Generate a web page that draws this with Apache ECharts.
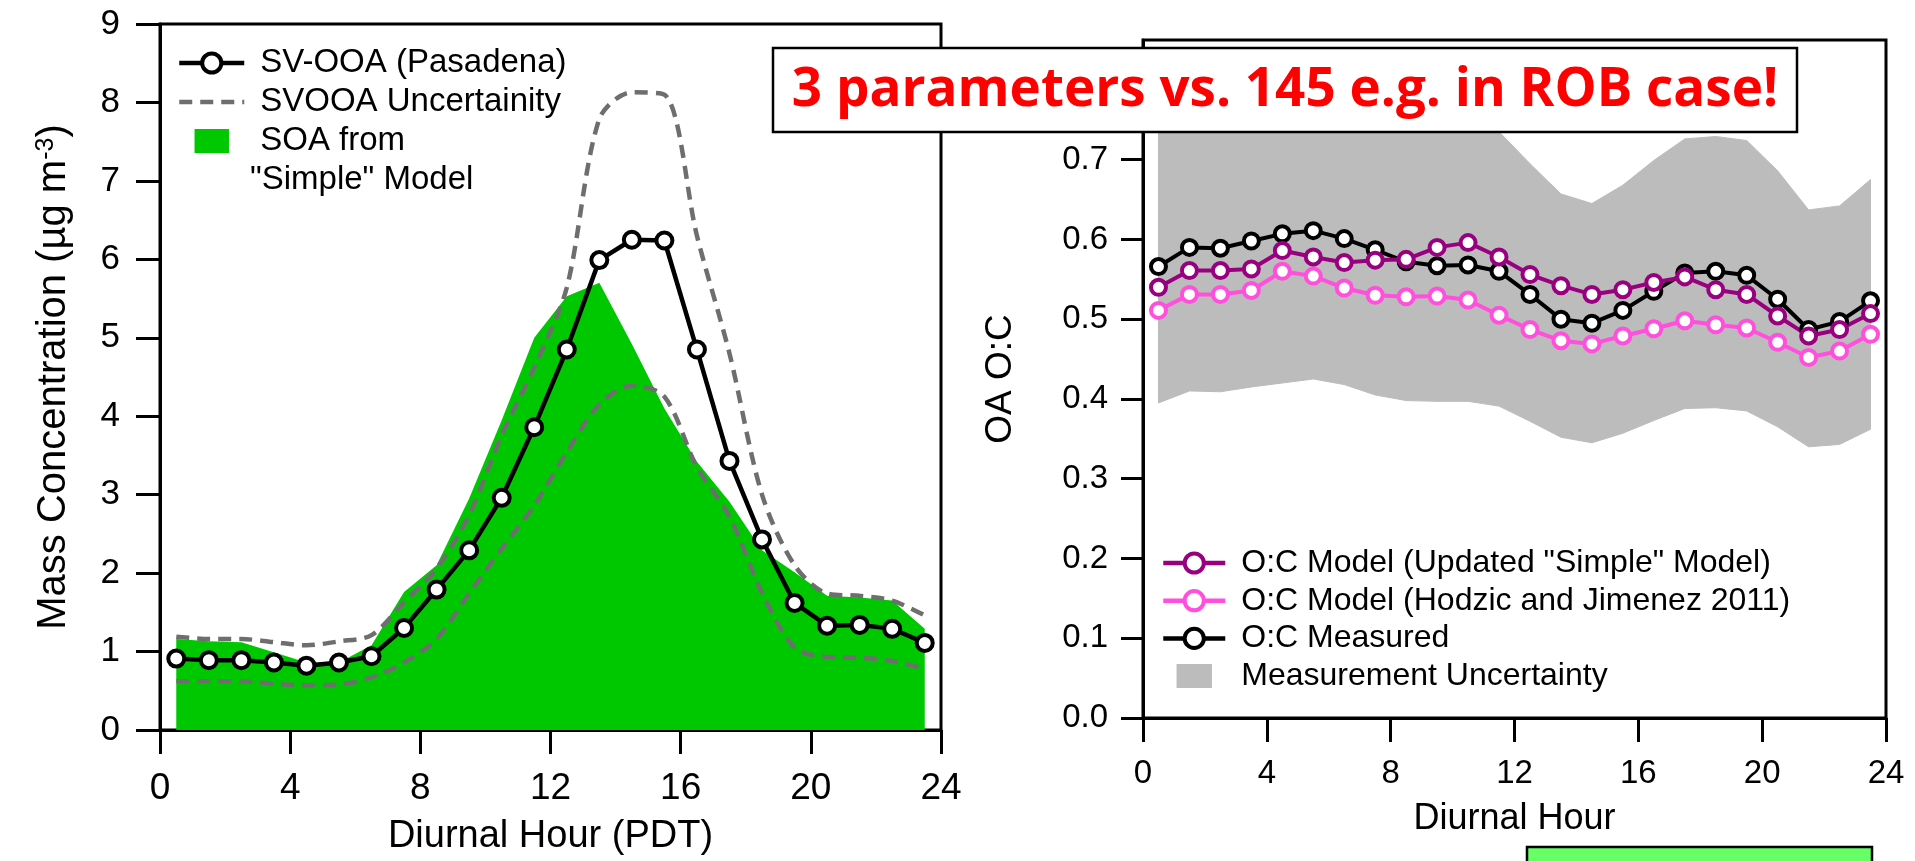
<!DOCTYPE html>
<html><head><meta charset="utf-8">
<script src="https://cdn.jsdelivr.net/npm/echarts@6/dist/echarts.min.js"></script>
<style>html,body{margin:0;padding:0;background:#fff}#c{width:1915px;height:861px}</style>
</head><body><div id="c"></div>
<script>
// ---------- data ----------
const hours = [0.5,1.5,2.5,3.5,4.5,5.5,6.5,7.5,8.5,9.5,10.5,11.5,12.5,13.5,14.5,15.5,16.5,17.5,18.5,19.5,20.5,21.5,22.5,23.5];
// left panel (Mass Concentration, ug m-3)
const svOOA     = [0.91,0.89,0.89,0.86,0.82,0.86,0.94,1.30,1.79,2.29,2.96,3.86,4.85,5.99,6.25,6.24,4.85,3.43,2.43,1.62,1.33,1.34,1.29,1.11];
const svUpper   = [1.19,1.16,1.16,1.12,1.08,1.13,1.21,1.63,2.06,2.74,3.76,4.62,5.64,7.79,8.13,8.10,6.30,4.80,3.00,2.10,1.74,1.71,1.65,1.46];
const svLower   = [0.62,0.62,0.62,0.59,0.57,0.58,0.67,0.86,1.16,1.74,2.31,2.86,3.54,4.15,4.39,4.25,3.35,2.72,1.75,1.05,0.93,0.92,0.88,0.78];
const soaSimple = [1.16,1.13,1.12,0.99,0.86,0.86,1.08,1.76,2.10,2.95,3.95,5.00,5.53,5.70,4.92,4.10,3.42,2.91,2.29,2.01,1.71,1.69,1.65,1.29];
// right panel (OA O:C)
const ocUpdated  = [0.540,0.561,0.561,0.563,0.586,0.578,0.571,0.574,0.575,0.590,0.596,0.578,0.556,0.542,0.531,0.537,0.546,0.553,0.537,0.531,0.504,0.479,0.487,0.507];
const ocHodzic   = [0.511,0.531,0.531,0.536,0.560,0.554,0.539,0.530,0.528,0.529,0.524,0.505,0.487,0.473,0.469,0.479,0.488,0.498,0.493,0.489,0.471,0.452,0.460,0.481];
const ocMeasured = [0.566,0.590,0.589,0.598,0.607,0.611,0.601,0.587,0.572,0.567,0.568,0.560,0.531,0.500,0.495,0.511,0.535,0.558,0.560,0.555,0.525,0.487,0.497,0.523];
const ocUncUpper = [0.740,0.765,0.770,0.775,0.785,0.790,0.780,0.765,0.750,0.745,0.745,0.735,0.695,0.657,0.645,0.668,0.699,0.726,0.729,0.724,0.686,0.637,0.642,0.675];
const ocUncLower = [0.395,0.410,0.409,0.415,0.420,0.425,0.418,0.405,0.398,0.397,0.397,0.391,0.372,0.352,0.345,0.357,0.373,0.388,0.389,0.385,0.365,0.340,0.343,0.362];

const names = {
  sv: 'SV-OOA (Pasadena)', unc: 'SVOOA Uncertainity', soa: 'SOA from "Simple" Model',
  upd: 'O:C Model (Updated "Simple" Model)', hod: 'O:C Model (Hodzic and Jimenez 2011)',
  meas: 'O:C Measured', munc: 'Measurement Uncertainty'
};
const soaLine1 = 'SOA from', soaLine2 = '"Simple" Model';
const noteText = '3 parameters vs. 145 e.g. in ROB case!';

// ---------- styles ----------
const FONT = "'Liberation Sans', Arial, sans-serif";
const PURPLE = '#990080', PINK = '#ff4fdc', GREEN = '#00c800', GRAY = '#bcbcbc', DASH = '#6e6e6e';
const DASHTYPE = [13, 8];
const pair = arr => hours.map((h, i) => [h, arr[i]]);

function xAx(gi, name, gap, nameSize, labSize, labMargin) {
  return {
    gridIndex: gi, type: 'value', min: 0, max: 24, interval: 4,
    name: name, nameLocation: 'middle', nameGap: gap,
    nameTextStyle: { fontFamily: FONT, fontSize: nameSize, color: '#000' },
    axisLine: { lineStyle: { color: '#000', width: 3 } },
    axisTick: { length: 24, lineStyle: { color: '#000', width: 3 } },
    axisLabel: { margin: labMargin, fontFamily: FONT, fontSize: labSize, color: '#000' },
    splitLine: { show: false }
  };
}

const chart = echarts.init(document.getElementById('c'), null, { renderer: 'canvas' });
chart.setOption({
  animation: false,
  backgroundColor: '#fff',
  grid: [
    { left: 160, top: 24, width: 781, height: 710, show: true, borderColor: '#000', borderWidth: 3 },
    { left: 1143, top: 40, width: 743, height: 678, show: true, borderColor: '#000', borderWidth: 3 }
  ],
  xAxis: [xAx(0, 'Diurnal Hour (PDT)', 88, 38, 37, 40), xAx(1, 'Diurnal Hour', 83, 36, 33, 39)],
  yAxis: [
    {
      gridIndex: 0, type: 'value', min: 0, max: 9, interval: 1,
      name: '{n|Mass Concentration (µg m}{s|-3}{n|)}', nameLocation: 'middle', nameGap: 86,
      nameTextStyle: {
        rich: {
          n: { fontFamily: FONT, fontSize: 40, color: '#000', verticalAlign: 'bottom', lineHeight: 40 },
          s: { fontFamily: FONT, fontSize: 25, color: '#000', verticalAlign: 'top', lineHeight: 25, padding: [0, 0, 30, 0] }
        }
      },
      axisLine: { lineStyle: { color: '#000', width: 3 } },
      axisTick: { length: 24, lineStyle: { color: '#000', width: 3 } },
      axisLabel: { margin: 40, fontFamily: FONT, fontSize: 35, color: '#000' },
      splitLine: { show: false }
    },
    {
      gridIndex: 1, type: 'value', min: 0, max: 0.85, interval: 0.1,
      name: 'OA O:C', nameLocation: 'middle', nameGap: 124,
      nameTextStyle: { fontFamily: FONT, fontSize: 37, color: '#000' },
      axisLine: { lineStyle: { color: '#000', width: 3 } },
      axisTick: { length: 22, lineStyle: { color: '#000', width: 3 } },
      axisLabel: { margin: 35, fontFamily: FONT, fontSize: 33, color: '#000', showMaxLabel: false,
                   formatter: v => v.toFixed(1) },
      splitLine: { show: false }
    }
  ],
  legend: [
    {
      left: 177, top: 46, orient: 'vertical', padding: 0, itemGap: 5, itemWidth: 65, itemHeight: 24,
      lineStyle: { width: 4.5 }, itemStyle: { borderWidth: 4 },
      formatter: n => (n === names.soa ? soaLine1 : n),
      textStyle: { fontFamily: FONT, fontSize: 33, lineHeight: 34, color: '#000', padding: [0, 0, 0, 11] },
      data: [
        { name: names.sv },
        { name: names.unc, itemStyle: { opacity: 0 }, lineStyle: { width: 4.5, type: DASHTYPE } },
        { name: names.soa, icon: 'path://M0,0h33v23h-33z', itemStyle: { borderWidth: 0 } }
      ]
    },
    {
      left: 1161, top: 546, orient: 'vertical', padding: 0, itemGap: 3.7, itemWidth: 62, itemHeight: 24,
      lineStyle: { width: 4.5 }, itemStyle: { borderWidth: 4 },
      textStyle: { fontFamily: FONT, fontSize: 32, lineHeight: 34, color: '#000', padding: [0, 0, 0, 11] },
      data: [names.upd, names.hod, names.meas,
             { name: names.munc, icon: 'path://M0,0h31v21h-31z', itemStyle: { borderWidth: 0 } }]
    }
  ],
  series: [
    { name: names.soa, type: 'line', xAxisIndex: 0, yAxisIndex: 0, data: pair(soaSimple),
      symbol: 'none', color: GREEN, lineStyle: { width: 0, color: GREEN }, itemStyle: { color: GREEN },
      areaStyle: { color: GREEN, opacity: 1 }, z: 1 },
    { name: names.unc, type: 'line', xAxisIndex: 0, yAxisIndex: 0, data: pair(svUpper), smooth: 0.3,
      symbol: 'none', color: DASH, lineStyle: { width: 4.5, color: DASH, type: DASHTYPE }, z: 2 },
    { name: names.unc, type: 'line', xAxisIndex: 0, yAxisIndex: 0, data: pair(svLower), smooth: 0.3,
      symbol: 'none', color: DASH, lineStyle: { width: 4.5, color: DASH, type: DASHTYPE }, z: 2 },
    { name: names.sv, type: 'line', xAxisIndex: 0, yAxisIndex: 0, data: pair(svOOA),
      symbol: 'circle', symbolSize: 16, color: '#000',
      lineStyle: { width: 4.5, color: '#000' }, itemStyle: { color: '#fff', borderColor: '#000', borderWidth: 4 }, z: 3 },

    { name: names.munc, type: 'custom', xAxisIndex: 1, yAxisIndex: 1, coordinateSystem: 'cartesian2d',
      color: GRAY, itemStyle: { color: GRAY }, z: 1,
      data: hours.map((h, i) => [h, ocUncLower[i], ocUncUpper[i]]),
      encode: { x: 0, y: [1, 2] },
      renderItem: function (params, api) {
        if (params.dataIndex !== 0) return null;
        const top = hours.map((h, i) => api.coord([h, ocUncUpper[i]]));
        const bot = hours.map((h, i) => api.coord([h, ocUncLower[i]])).reverse();
        return { type: 'polygon', shape: { points: top.concat(bot) }, style: { fill: GRAY, stroke: GRAY, lineWidth: 1 } };
      } },
    { name: names.meas, type: 'line', xAxisIndex: 1, yAxisIndex: 1, data: pair(ocMeasured),
      symbol: 'circle', symbolSize: 15, color: '#000',
      lineStyle: { width: 4, color: '#000' }, itemStyle: { color: '#fff', borderColor: '#000', borderWidth: 4 }, z: 3 },
    { name: names.hod, type: 'line', xAxisIndex: 1, yAxisIndex: 1, data: pair(ocHodzic),
      symbol: 'circle', symbolSize: 15, color: PINK,
      lineStyle: { width: 4, color: PINK }, itemStyle: { color: '#fff', borderColor: PINK, borderWidth: 4 }, z: 3 },
    { name: names.upd, type: 'line', xAxisIndex: 1, yAxisIndex: 1, data: pair(ocUpdated),
      symbol: 'circle', symbolSize: 15, color: PURPLE,
      lineStyle: { width: 4, color: PURPLE }, itemStyle: { color: '#fff', borderColor: PURPLE, borderWidth: 4 }, z: 3 }
  ],
  graphic: [
    { type: 'text', z: 50, left: 250, top: 163, style: { text: soaLine2, fill: '#000', font: "33px 'Liberation Sans', Arial, sans-serif" } },
    { type: 'rect', z: 100, zlevel: 1, shape: { x: 773, y: 48, width: 1024, height: 84 }, style: { fill: '#fff', stroke: '#000', lineWidth: 2.5 } },
    { type: 'text', z: 101, zlevel: 1, x: 1285, y: 91, style: { text: noteText, fill: '#ff0000', font: "bold 53px 'Open Sans', sans-serif", align: 'center', verticalAlign: 'middle' } },
    { type: 'rect', z: 100, zlevel: 1, shape: { x: 1527, y: 847, width: 345, height: 20 }, style: { fill: '#66ff66', stroke: '#000', lineWidth: 2.5 } }
  ]
});
</script></body></html>
